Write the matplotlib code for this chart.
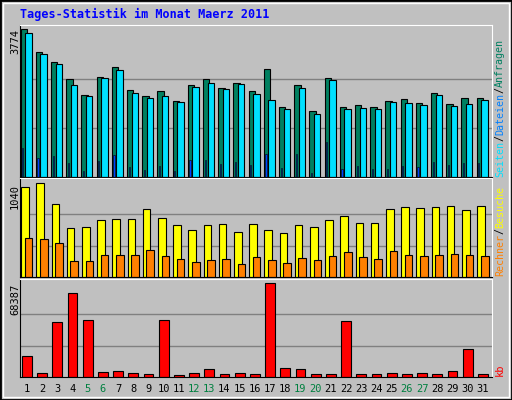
import matplotlib
matplotlib.use("Agg")
import matplotlib.pyplot as plt
import numpy as np

days = list(range(1, 32))
weekend = [5, 6, 12, 13, 19, 20, 26, 27]
s_top = 3774 / 440
anfragen = [(528 - y) * s_top for y in [88,154,186,235,283,229,201,270,286,273,300,255,235,262,247,273,205,319,253,331,232,319,313,319,300,295,307,277,310,292,292]]
dateien = [(528 - y) * s_top for y in [100,160,190,253,286,232,208,277,292,286,304,259,247,265,250,280,298,325,262,340,238,325,322,325,304,307,313,283,316,310,298]]
seiten = [(528 - y) * s_top for y in [441,471,465,487,511,481,462,498,508,495,511,478,478,490,484,492,459,501,459,517,423,505,495,505,505,495,498,484,492,487,487]]
s_mid = 1040 / 275
besuche = [(303 - y) * s_mid for y in [40,28,91,160,157,136,133,133,106,130,151,166,151,148,172,148,166,175,151,157,136,124,145,145,106,100,103,100,97,109,97]]
rechner = [(303 - y) * s_mid for y in [190,193,205,256,256,238,238,238,223,241,250,259,253,250,265,244,253,262,247,253,241,229,244,250,226,238,241,238,235,238,241]]
s_kb = 68387 / 273
kb = [(601 - y) * s_kb for y in [541,589,442,358,436,586,583,589,592,436,595,589,577,592,589,592,328,574,577,592,592,439,592,592,589,592,589,592,583,520,592]]

W, H = 512, 400
fig = plt.figure(figsize=(5.12, 4.0), dpi=100, facecolor="#C0C0C0")
mono = "DejaVu Sans Mono"

fig.add_artist(plt.Rectangle((0, 0), 1, 1, transform=fig.transFigure, fill=False, ec="black", lw=2))
fig.add_artist(plt.Rectangle((3/W, 3/H), 1-6/W, 1-6/H, transform=fig.transFigure, fill=False, ec="white", lw=1))

fig.text(20/W, 1 - 14/H, "Tages-Statistik im Monat Maerz 2011", color="#0000FF",
         fontsize=8.5, fontweight="bold", family=mono, va="center", ha="left")

def mkax(top, bot):
    ax = fig.add_axes([20/W, 1 - bot/H, 472/W, (bot - top)/H], facecolor="#C0C0C0")
    ax.set_xlim(0.55, 31.6)
    ax.set_xticks([]); ax.set_yticks([])
    for s in ["left", "bottom"]:
        ax.spines[s].set_color("black")
    for s in ["top", "right"]:
        ax.spines[s].set_color("white")
    return ax

x = np.array(days)
ax1 = mkax(25, 177)
top1 = 3774
ax1.set_ylim(0, top1 * 1.03)
for f in (1/3, 2/3):
    ax1.axhline(top1 * f, color="#808080", lw=1, zorder=0)
ax1.bar(x - 0.2, anfragen, width=0.42, color="#008060", ec="black", lw=0.8)
ax1.bar(x + 0.1, dateien, width=0.42, color="#00E0FF", ec="black", lw=0.8)
ax1.bar(x - 0.27, seiten, width=0.08, color="#0040FF", ec="black", lw=0.4)

ax2 = mkax(178, 277)
ax2.set_ylim(0, 1040 * 1.05)
for f in (1/3, 2/3):
    ax2.axhline(1040 * f, color="#808080", lw=1, zorder=0)
ax2.bar(x - 0.12, besuche, width=0.5, color="#FFFF00", ec="black", lw=0.8)
ax2.bar(x + 0.12, rechner, width=0.5, color="#FF8000", ec="black", lw=0.8)

ax3 = mkax(279, 377)
ax3.set_ylim(0, 68387 * 1.04)
for f in (1/3, 2/3):
    ax3.axhline(68387 * f, color="#808080", lw=1, zorder=0)
ax3.bar(x, kb, width=0.65, color="#FF0000", ec="black", lw=0.8)

for d in days:
    fig.text((20 + (d - 0.55) / 31.05 * 472) / W, 1 - 389/H, str(d), ha="center", va="center",
             fontsize=7.5, family=mono, color="#008040" if d in weekend else "black")

fig.text(15/W, 1 - 29/H, "3774", rotation=90, ha="center", va="top", fontsize=7.5, family=mono)
fig.text(15/W, 1 - 184/H, "1040", rotation=90, ha="center", va="top", fontsize=7.5, family=mono)
fig.text(15/W, 1 - 284/H, "68387", rotation=90, ha="center", va="top", fontsize=7.5, family=mono)

fig.canvas.draw()
rend = fig.canvas.get_renderer()

def vlabel(ybottom, parts, fs=7.5):
    pos = ybottom
    for txt, col in parts:
        t = fig.text(500/W, 1 - pos/H, txt, rotation=90, ha="center", va="bottom",
                     fontsize=fs, family=mono, color=col)
        ext = t.get_window_extent(rend)
        pos -= ext.height

vlabel(177, [("Seiten", "#00E0FF"), ("/", "black"), ("Dateien", "#0080FF"), ("/", "black"), ("Anfragen", "#008060")], fs=7.2)
vlabel(276, [("Rechner", "#FF8000"), ("/", "black"), ("Besuche", "#FFFF00")], fs=7.2)
vlabel(376, [("kb", "#FF0000")])

fig.savefig("out.png", dpi=100, facecolor=fig.get_facecolor())
